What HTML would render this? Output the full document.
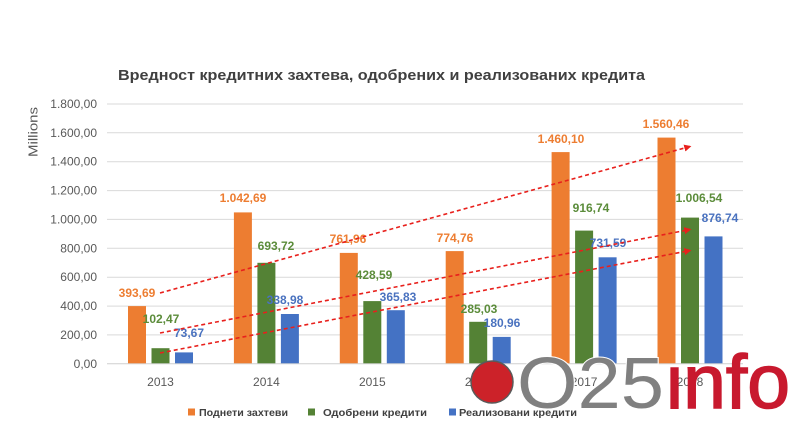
<!DOCTYPE html>
<html>
<head>
<meta charset="utf-8">
<style>
  html,body{margin:0;padding:0;background:#fff;}
  svg{display:block;}
  text{font-family:"Liberation Sans","DejaVu Sans",sans-serif;}
</style>
</head>
<body>
<svg width="800" height="437" viewBox="0 0 800 437" xmlns="http://www.w3.org/2000/svg">
  <defs>
    <marker id="ah" viewBox="0 0 10 10" refX="8" refY="5" markerWidth="4.5" markerHeight="4.5" orient="auto" markerUnits="strokeWidth">
      <path d="M0,0 L10,5 L0,10 z" fill="#e8201c"/>
    </marker>
    <clipPath id="infoclip">
      <rect x="655" y="365" width="28" height="60"/>
      <rect x="683" y="330" width="117" height="95"/>
    </clipPath>
  </defs>
  <rect width="800" height="437" fill="#fff"/>

  <!-- Title -->
  <text x="118" y="80" font-size="14.5" font-weight="bold" fill="#404040" textLength="527" lengthAdjust="spacingAndGlyphs">Вредност кредитних захтева, одобрених и реализованих кредита</text>

  <!-- Gridlines -->
  <g stroke="#d9d9d9" stroke-width="1">
    <line x1="107" y1="104" x2="743" y2="104"/>
    <line x1="107" y1="132.8" x2="743" y2="132.8"/>
    <line x1="107" y1="161.7" x2="743" y2="161.7"/>
    <line x1="107" y1="190.6" x2="743" y2="190.6"/>
    <line x1="107" y1="219.4" x2="743" y2="219.4"/>
    <line x1="107" y1="248.3" x2="743" y2="248.3"/>
    <line x1="107" y1="277.2" x2="743" y2="277.2"/>
    <line x1="107" y1="306.1" x2="743" y2="306.1"/>
    <line x1="107" y1="334.9" x2="743" y2="334.9"/>
    <line x1="107" y1="363.8" x2="743" y2="363.8" stroke="#cfcfcf"/>
  </g>

  <!-- Y labels -->
  <g font-size="12" fill="#595959" text-anchor="end">
    <text x="97" y="108">1.800,00</text>
    <text x="97" y="136.8">1.600,00</text>
    <text x="97" y="165.7">1.400,00</text>
    <text x="97" y="194.6">1.200,00</text>
    <text x="97" y="223.4">1.000,00</text>
    <text x="97" y="252.3">800,00</text>
    <text x="97" y="281.2">600,00</text>
    <text x="97" y="310.1">400,00</text>
    <text x="97" y="338.9">200,00</text>
    <text x="97" y="367.8">0,00</text>
  </g>
  <text transform="translate(37.5,132) rotate(-90)" font-size="13" fill="#595959" text-anchor="middle" textLength="50" lengthAdjust="spacingAndGlyphs">Millions</text>

  <!-- Bars -->
  <g fill="#ED7D31">
    <rect x="128" y="306.1" width="18" height="57.2"/>
    <rect x="233.9" y="212.4" width="18" height="150.9"/>
    <rect x="339.8" y="252.9" width="18" height="110.4"/>
    <rect x="445.7" y="251.1" width="18" height="112.2"/>
    <rect x="551.6" y="152.1" width="18" height="211.2"/>
    <rect x="657.5" y="137.6" width="18" height="225.7"/>
  </g>
  <g fill="#548235">
    <rect x="151.5" y="348.2" width="18" height="15.1"/>
    <rect x="257.4" y="262.8" width="18" height="100.5"/>
    <rect x="363.3" y="301.1" width="18" height="62.2"/>
    <rect x="469.2" y="321.8" width="18" height="41.5"/>
    <rect x="575.1" y="230.6" width="18" height="132.7"/>
    <rect x="681" y="217.6" width="18" height="145.7"/>
  </g>
  <g fill="#4472C4">
    <rect x="175" y="352.4" width="18" height="10.9"/>
    <rect x="280.9" y="314" width="18" height="49.3"/>
    <rect x="386.8" y="310.2" width="18" height="53.1"/>
    <rect x="492.7" y="336.9" width="18" height="26.4"/>
    <rect x="598.6" y="257.3" width="18" height="106"/>
    <rect x="704.5" y="236.4" width="18" height="126.9"/>
  </g>

  <!-- Category labels -->
  <g font-size="12" fill="#595959" text-anchor="middle">
    <text x="160.5" y="386">2013</text>
    <text x="266.4" y="386">2014</text>
    <text x="372.3" y="386">2015</text>
    <text x="478.2" y="386">2016</text>
    <text x="584.1" y="386">2017</text>
    <text x="690" y="386">2018</text>
  </g>

  <!-- Data labels -->
  <g font-size="12" font-weight="bold" text-anchor="middle">
    <g fill="#ED7D31">
      <text x="137" y="297">393,69</text>
      <text x="243" y="202">1.042,69</text>
      <text x="348" y="243">761,96</text>
      <text x="455" y="242">774,76</text>
      <text x="561" y="143">1.460,10</text>
      <text x="666" y="128">1.560,46</text>
    </g>
    <g fill="#5b8c3a">
      <text x="161" y="323">102,47</text>
      <text x="276" y="250">693,72</text>
      <text x="374" y="279">428,59</text>
      <text x="479" y="313">285,03</text>
      <text x="591" y="212">916,74</text>
      <text x="699" y="202">1.006,54</text>
    </g>
    <g fill="#4a72bf">
      <text x="189" y="337">73,67</text>
      <text x="285" y="304">338,98</text>
      <text x="398" y="301">365,83</text>
      <text x="502" y="327">180,96</text>
      <text x="608" y="247">731,59</text>
      <text x="720" y="222">876,74</text>
    </g>
  </g>

  <!-- Red dashed trend arrows -->
  <g stroke="#e8201c" stroke-width="1.6" stroke-dasharray="4,3" fill="none" marker-end="url(#ah)">
    <line x1="160" y1="293" x2="690" y2="146.5"/>
    <line x1="160" y1="333" x2="690" y2="229.5"/>
    <line x1="160" y1="353" x2="690" y2="250.5"/>
  </g>

  <!-- Legend -->
  <rect x="188" y="408.5" width="7" height="7" fill="#ED7D31"/>
  <text x="199" y="416" font-size="10.5" font-weight="bold" fill="#404040" textLength="89" lengthAdjust="spacingAndGlyphs">Поднети захтеви</text>
  <rect x="308" y="408.5" width="7" height="7" fill="#548235"/>
  <text x="323" y="416" font-size="10.5" font-weight="bold" fill="#404040" textLength="104" lengthAdjust="spacingAndGlyphs">Одобрени кредити</text>
  <rect x="449" y="408.5" width="7" height="7" fill="#4472C4"/>
  <text x="459" y="416" font-size="10.5" font-weight="bold" fill="#404040" textLength="118" lengthAdjust="spacingAndGlyphs">Реализовани кредити</text>

  <!-- Watermark logo -->
  <circle cx="492" cy="382" r="21" fill="#cc2229" stroke="#5a5a5a" stroke-width="1.5"/>
  <text x="517" y="408" font-size="72" fill="#808080" stroke="#ffffff" stroke-width="2" paint-order="stroke" textLength="147" lengthAdjust="spacingAndGlyphs">O25</text>
  <text x="666" y="408" font-size="76" fill="#c8192e" stroke="#c8192e" stroke-width="1.5" textLength="124" lengthAdjust="spacingAndGlyphs" clip-path="url(#infoclip)">info</text>
</svg>
</body>
</html>
